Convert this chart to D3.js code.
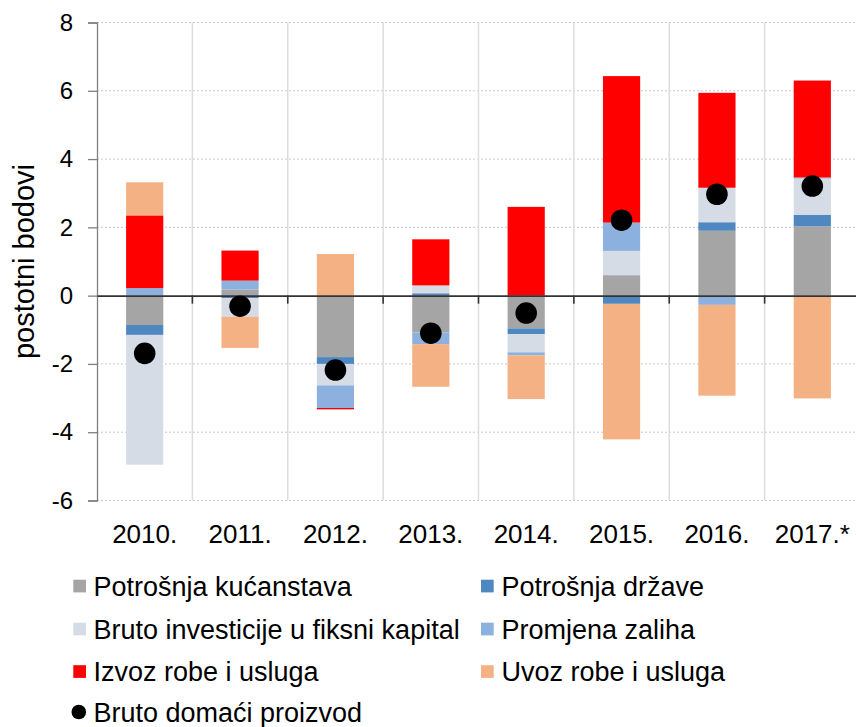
<!DOCTYPE html>
<html>
<head>
<meta charset="utf-8">
<script src="https://cdn.jsdelivr.net/npm/d3@7"></script>
<style>
  html, body { margin: 0; padding: 0; background: #fff; }
  svg { display: block; font-family: "Liberation Sans", Arial, sans-serif; }
</style>
</head>
<body>
<svg id="chart" width="856" height="727"></svg>
<script>
// ---- data ----
const categories = ["2010.", "2011.", "2012.", "2013.", "2014.", "2015.", "2016.", "2017.*"];
const potrosnjaKucanstava = [-0.86, 0.18, -1.80, -1.08, -0.96, 0.60, 1.90, 2.03];
const potrosnjaDrzave     = [-0.29, -0.07, -0.20, 0.07, -0.17, -0.24, 0.25, 0.34];
const brutoInvesticije    = [-3.80, -0.55, -0.63, 0.23, -0.53, 0.71, 1.01, 1.06];
const promjenaZaliha      = [0.22, 0.26, -0.66, -0.34, -0.09, 0.83, -0.27, 0.03];
const izvozRobe           = [2.13, 0.88, -0.04, 1.35, 2.60, 4.29, 2.78, 2.84];
const uvozRobe            = [0.97, -0.91, 1.22, -1.25, -1.28, -3.97, -2.66, -3.01];
const bdp                 = [-1.69, -0.31, -2.18, -1.10, -0.51, 2.21, 2.97, 3.21];
const yTicks = [-6, -4, -2, 0, 2, 4, 6, 8];

const seriesNames = ["Potrošnja kućanstava", "Potrošnja države", "Bruto investicije u fiksni kapital",
                     "Promjena zaliha", "Izvoz robe i usluga", "Uvoz robe i usluga"];
const seriesValues = [potrosnjaKucanstava, potrosnjaDrzave, brutoInvesticije, promjenaZaliha, izvozRobe, uvozRobe];
const seriesColors = ["#A5A5A5", "#4F88C0", "#D6DCE5", "#8DB1DE", "#FF0000", "#F4B183"];
const gdpName = "Bruto domaći proizvod";

(function () {
// ---- layout ----
const svg = d3.select("#chart");
const pLeft = 97, pRight = 860, pTop = 22.5, pBottom = 500.5;

const x = d3.scaleBand().domain(categories).range([pLeft, pRight]).paddingInner(0).paddingOuter(0);
const y = d3.scaleLinear().domain([-6, 8]).range([pBottom, pTop]);

// table for stacking
const keys = seriesNames;
const rows = categories.map((c, i) => {
  const r = { cat: c };
  keys.forEach((k, j) => r[k] = seriesValues[j][i]);
  return r;
});
const stacked = d3.stack().keys(keys).order(d3.stackOrderNone).offset(d3.stackOffsetDiverging)(rows);

// horizontal gridlines (dotted)
svg.append("g").selectAll("line").data(yTicks.filter(t => t !== 0)).join("line")
  .attr("x1", pLeft).attr("x2", pRight)
  .attr("y1", d => y(d)).attr("y2", d => y(d))
  .attr("stroke", "#c8c8c8").attr("stroke-width", 1).attr("stroke-dasharray", "2,2");

// vertical category separators
svg.append("g").selectAll("line").data(categories.slice(1)).join("line")
  .attr("x1", d => x(d)).attr("x2", d => x(d))
  .attr("y1", pTop).attr("y2", pBottom)
  .attr("stroke", "#dddddd").attr("stroke-width", 1.5);

// bars
const barW = x.bandwidth() * 0.39;
svg.append("g").selectAll("g").data(stacked).join("g")
  .attr("fill", (d, i) => seriesColors[i])
  .selectAll("rect").data(d => d).join("rect")
  .attr("x", d => x(d.data.cat) + (x.bandwidth() - barW) / 2)
  .attr("width", barW)
  .attr("y", d => y(Math.max(d[0], d[1])))
  .attr("height", d => Math.abs(y(d[0]) - y(d[1])));

// y axis
const yAxis = d3.axisLeft(y).tickValues(yTicks).tickSize(9).tickPadding(15).tickFormat(d => String(d));
const gy = svg.append("g").attr("transform", `translate(${pLeft},0)`).call(yAxis);
gy.select(".domain").attr("stroke", "#808080").attr("stroke-width", 1.3);
gy.selectAll(".tick line").attr("stroke", "#808080").attr("stroke-width", 1.3);
gy.selectAll(".tick text").attr("font-size", 24).attr("fill", "#000")
  .attr("font-family", "Liberation Sans, Arial, sans-serif");

// zero axis line with ticks
const xAxis = d3.axisBottom(x).tickValues([]).tickSize(0);
const gx = svg.append("g").attr("transform", `translate(0,${y(0)})`).call(xAxis);
gx.select(".domain").attr("stroke", "#333").attr("stroke-width", 1.6);
svg.append("g").selectAll("line").data(categories.slice(1)).join("line")
  .attr("x1", d => x(d)).attr("x2", d => x(d))
  .attr("y1", y(0)).attr("y2", y(0) + 8)
  .attr("stroke", "#333").attr("stroke-width", 1.6);

// category labels
svg.append("g").selectAll("text").data(categories).join("text")
  .attr("x", d => x(d) + x.bandwidth() / 2)
  .attr("y", 543)
  .attr("text-anchor", "middle")
  .attr("font-size", 26)
  .attr("fill", "#000")
  .text(d => d);

// GDP dots
svg.append("g").selectAll("circle").data(bdp).join("circle")
  .attr("cx", (d, i) => x(categories[i]) + x.bandwidth() / 2)
  .attr("cy", d => y(d))
  .attr("r", 10.8)
  .attr("fill", "#000");

// y title
svg.append("text")
  .attr("transform", `translate(34,${(pTop + pBottom) / 2}) rotate(-90)`)
  .attr("text-anchor", "middle")
  .attr("font-size", 29)
  .attr("fill", "#000")
  .text("postotni bodovi");

// legend
const legRows = [586, 629, 671.5, 712];
const legCols = [{ m: 73.3, t: 93.5 }, { m: 481, t: 501.5 }];
const legend = svg.append("g");
seriesNames.forEach((name, i) => {
  const row = Math.floor(i / 2), col = i % 2;
  const cy = legRows[row];
  legend.append("rect")
    .attr("x", legCols[col].m).attr("y", cy - 6.3)
    .attr("width", 12.7).attr("height", 12.7)
    .attr("fill", seriesColors[i]);
  legend.append("text")
    .attr("x", legCols[col].t).attr("y", cy + 9.5)
    .attr("font-size", 27).attr("fill", "#000")
    .text(name);
});
legend.append("circle").attr("cx", 78.8).attr("cy", legRows[3]).attr("r", 7.3).attr("fill", "#000");
legend.append("text").attr("x", legCols[0].t).attr("y", legRows[3] + 9.5)
  .attr("font-size", 27).attr("fill", "#000").text(gdpName);
})();
</script>
</body>
</html>
